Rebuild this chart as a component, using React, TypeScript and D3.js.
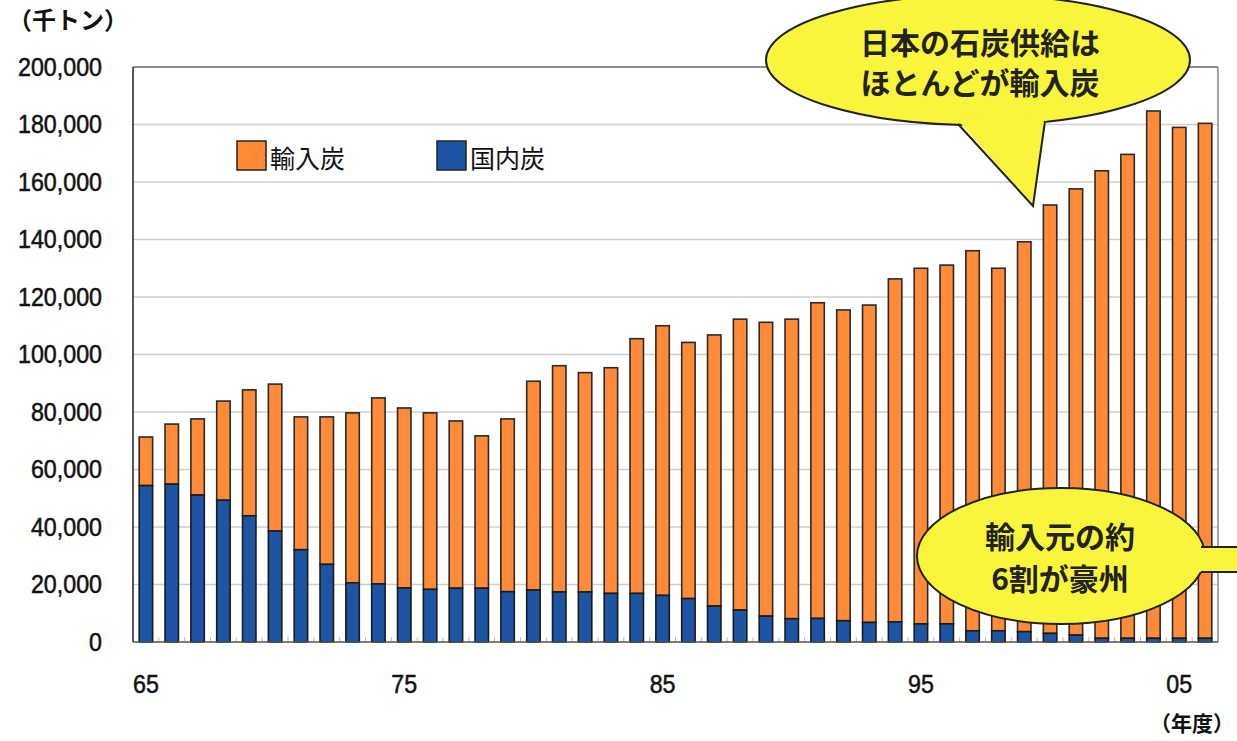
import React from 'react';
import * as d3 from 'd3';

const years = [
  1965, 1966, 1967, 1968, 1969, 1970, 1971, 1972, 1973, 1974,
  1975, 1976, 1977, 1978, 1979, 1980, 1981, 1982, 1983, 1984,
  1985, 1986, 1987, 1988, 1989, 1990, 1991, 1992, 1993, 1994,
  1995, 1996, 1997, 1998, 1999, 2000, 2001, 2002, 2003, 2004,
  2005, 2006,
];

// 国内炭 (thousand tonnes)
const domestic = [
  54400, 54900, 51100, 49300, 43900, 38600, 32100, 27000, 20600, 20200,
  18800, 18300, 18700, 18700, 17500, 18100, 17400, 17400, 16900, 16900,
  16200, 15100, 12500, 11100, 9000, 8100, 8200, 7400, 6800, 7000,
  6300, 6300, 3900, 3900, 3600, 3000, 2400, 1300, 1300, 1300,
  1300, 1300,
];

// 輸入炭 (thousand tonnes)
const imported = [
  16900, 20900, 26500, 34500, 43800, 51100, 46200, 51300, 59100, 64700,
  62600, 61400, 58200, 53000, 60100, 72600, 78700, 76300, 78500, 88600,
  93800, 89100, 94300, 101200, 102200, 104200, 109800, 108100, 110400, 119300,
  123700, 124800, 132200, 126100, 135600, 149000, 155200, 162600, 168300, 183400,
  177700, 179100,
];

const yTicks = [0, 20000, 40000, 60000, 80000, 100000, 120000, 140000, 160000, 180000, 200000];
const xLabelYears = [1965, 1975, 1985, 1995, 2005];

const seriesNames = ['輸入炭', '国内炭'];
const callout1 = ['日本の石炭供給は', 'ほとんどが輸入炭'];
const callout2 = ['輸入元の約', '6割が豪州'];

const ORANGE = '#FF8B38';
const BLUE = '#1E54A4';
const YELLOW = '#F9F53C';
const JP = '"Noto Sans CJK JP", "Noto Sans", sans-serif';
const NUM = '"Liberation Sans", Arial, sans-serif';

export default function App() {
  const left = 133, right = 1218, top = 67, bottom = 642;
  const x = d3.scaleBand<number>().domain(years).range([left, right]).paddingInner(0.48).paddingOuter(0.24);
  const y = d3.scaleLinear().domain([0, 200000]).range([bottom, top]);
  const bw = x.bandwidth();

  const numStyle = { fontFamily: NUM, fontSize: 25, fill: '#111', stroke: '#111', strokeWidth: 0.5 };

  return (
    <svg width={1237} height={741} style={{ position: 'absolute', left: 0, top: 0, background: '#fff' }}>
      {/* gridlines */}
      {yTicks.slice(1, -1).map((t) => (
        <line key={'g' + t} x1={left} x2={right} y1={y(t)} y2={y(t)} stroke="#CFCFCF" strokeWidth={1.5} />
      ))}
      {/* minor ticks on x axis */}
      {years.map((yr) => {
        const bx = (x(yr) as number) - (x.step() - bw) / 2;
        return <line key={'mt' + yr} x1={bx} x2={bx} y1={bottom} y2={bottom - 5} stroke="#bbb" strokeWidth={1} />;
      })}
      {/* bars */}
      {years.map((yr, i) => {
        const bx = x(yr) as number;
        const d = domestic[i];
        const im = imported[i];
        return (
          <g key={'b' + yr}>
            <rect x={bx} y={y(d + im)} width={bw} height={y(d) - y(d + im)} fill={ORANGE} stroke="#2a2a2a" strokeWidth={1.6} />
            <rect x={bx} y={y(d)} width={bw} height={y(0) - y(d)} fill={BLUE} stroke="#1a1a1a" strokeWidth={1.6} />
          </g>
        );
      })}
      {/* frame */}
      <line x1={left} x2={right} y1={top} y2={top} stroke="#666" strokeWidth={1.5} />
      <line x1={right} x2={right} y1={top} y2={bottom} stroke="#888" strokeWidth={1.5} />
      <line x1={left} x2={left} y1={top} y2={bottom} stroke="#444" strokeWidth={1.8} />
      <line x1={left} x2={right} y1={bottom} y2={bottom} stroke="#555" strokeWidth={1.5} />

      {/* y tick labels */}
      {yTicks.map((t) => (
        <text key={'yl' + t} transform={`translate(102,${y(t)}) scale(0.93,1)`} textAnchor="end" dominantBaseline="central" style={numStyle}>
          {d3.format(',')(t)}
        </text>
      ))}
      {/* x tick labels */}
      {xLabelYears.map((yr) => (
        <text key={'xl' + yr} transform={`translate(${(x(yr) as number) + bw / 2},${684}) scale(0.93,1)`} textAnchor="middle" dominantBaseline="central" style={numStyle}>
          {String(yr).slice(2)}
        </text>
      ))}

      {/* axis titles */}
      <text x={8} y={18} dominantBaseline="central" style={{ fontFamily: JP, fontSize: 24, fontWeight: 700, fill: '#111' }}>（千トン）</text>
      <text x={1150} y={722} dominantBaseline="central" style={{ fontFamily: JP, fontSize: 21, fontWeight: 700, fill: '#111' }}>（年度）</text>

      {/* legend */}
      <rect x={237} y={141} width={29} height={29} fill={ORANGE} stroke="#222" strokeWidth={1.5} />
      <text x={270} y={157} dominantBaseline="central" style={{ fontFamily: JP, fontSize: 25, fill: '#111' }}>{seriesNames[0]}</text>
      <rect x={437} y={141} width={29} height={29} fill={BLUE} stroke="#222" strokeWidth={1.5} />
      <text x={470} y={157} dominantBaseline="central" style={{ fontFamily: JP, fontSize: 25, fill: '#111' }}>{seriesNames[1]}</text>

      {/* callout 1 */}
      <ellipse cx={978} cy={60} rx={212} ry={65} fill={YELLOW} stroke="#222" strokeWidth={2} />
      <polygon points="956,118 1033,206 1047,116" fill={YELLOW} />
      <polyline points="958,124 1033,206 1045,121" fill="none" stroke="#222" strokeWidth={2} />
      {callout1.map((s, i) => (
        <text key={'c1' + i} x={980} y={41 + i * 40} textAnchor="middle" dominantBaseline="central" style={{ fontFamily: JP, fontSize: 30, fontWeight: 700, fill: '#222' }}>{s}</text>
      ))}

      {/* callout 2 */}
      <ellipse cx={1061} cy={556} rx={144} ry={68} fill={YELLOW} stroke="#222" strokeWidth={2} />
      <rect x={1196} y={547} width={50} height={25} fill={YELLOW} />
      <line x1={1201} x2={1240} y1={547} y2={547} stroke="#222" strokeWidth={2} />
      <line x1={1201} x2={1240} y1={572} y2={572} stroke="#222" strokeWidth={2} />
      {callout2.map((s, i) => (
        <text key={'c2' + i} x={1060} y={535 + i * 42} textAnchor="middle" dominantBaseline="central" style={{ fontFamily: JP, fontSize: 30, fontWeight: 700, fill: '#222' }}>{s}</text>
      ))}
    </svg>
  );
}
